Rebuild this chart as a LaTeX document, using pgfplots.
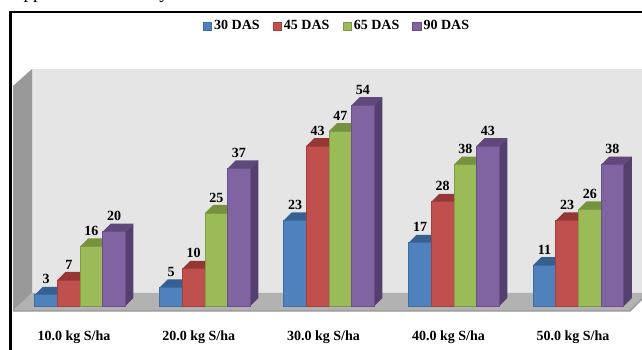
\documentclass[border=0pt]{standalone}
\usepackage{pgfplots}
\usepackage{pgfplotstable}
\usepackage{fontspec}
\setmainfont{Liberation Serif}
\pgfplotsset{compat=1.18}

\definecolor{blueF}{HTML}{4F81BD}\definecolor{blueT}{HTML}{376092}\definecolor{blueS}{HTML}{2F4F78}\definecolor{blueE}{HTML}{3F6DA3}
\definecolor{redF}{HTML}{C0504D}\definecolor{redT}{HTML}{953735}\definecolor{redS}{HTML}{7F3230}\definecolor{redE}{HTML}{A33F3C}
\definecolor{greenF}{HTML}{9BBB59}\definecolor{greenT}{HTML}{76923C}\definecolor{greenS}{HTML}{627636}\definecolor{greenE}{HTML}{7F9C45}
\definecolor{purpleF}{HTML}{8064A2}\definecolor{purpleT}{HTML}{5F497A}\definecolor{purpleS}{HTML}{54406F}\definecolor{purpleE}{HTML}{6A4F8C}

% Sulphur dose (group centre in layout units) against counts per sampling date
\pgfplotstableread{
x      d30 d45 d65 d90
80.1    3   7  16  20
205.0   5  10  25  37
329.0  23  43  47  54
454.0  17  28  38  43
578.5  11  23  26  38
}\dastable

\newcommand{\barw}{22.65}
\pgfplotsset{
  % a whole prism (top, side, front) hung from the bar's top-centre point;
  % arguments: top colour, side colour, front colour, edge colour
  prism faces/.style n args={4}{
    forget plot,
    scatter, only marks, mark=*, mark size=0pt, draw=none,
    point meta=y,
    visualization depends on={y \as \rawy},
    scatter/@pre marker code/.code={%
      \pgfmathsetmacro\hh{\rawy*3.72}%
      \fill[#1] (-\barw/2*1pt,0pt) -- (\barw/2*1pt,0pt) -- (\barw/2*1pt+8pt,8pt) -- (-\barw/2*1pt+8pt,8pt) -- cycle;
      \fill[#2] (\barw/2*1pt,0pt) -- (\barw/2*1pt+8pt,8pt) -- (\barw/2*1pt+8pt,8pt-\hh pt) -- (\barw/2*1pt,-\hh pt) -- cycle;
      \filldraw[fill=#3,draw=#4,line width=0.8pt] (-\barw/2*1pt,0pt) rectangle (\barw/2*1pt,-\hh pt);
    },
    scatter/@post marker code/.code={},
  },
  % the plain bar of a series, which also supplies its legend key
  prism front/.style n args={2}{
    ybar, bar shift=0pt, bar width=\barw pt, fill=#1, draw=#2, line width=0.8pt,
    area legend,
    legend image code/.code={\draw[fill=#1,draw=#2,line width=0.8pt] (0pt,-4pt) rectangle (8.5pt,4pt);},
  },
  % the value printed above the prism
  prism value/.style={
    forget plot,
    only marks, mark=*, mark size=0pt, draw=none,
    nodes near coords={\pgfmathprintnumber[assume math mode=true]{\pgfplotspointmeta}},
    every node near coord/.append style={anchor=center, yshift=15.5pt, text=black, font=\fontsize{14}{14}\selectfont\bfseries},
  },
}

\begin{document}
\begin{tikzpicture}
\path[use as bounding box] (0,0) rectangle (642pt,350pt);

% Chart walls, floor and frame, in a top-left based layout frame
\begin{scope}[x=1pt,y=-1pt,yshift=350pt]
  \fill[color=black!10] (32,69) rectangle (642,294);
  \fill[color=black!40] (13,86) -- (32,69) -- (32,293) -- (13,311) -- cycle;
  \fill[color=black!30] (32,293) -- (642,293) -- (642,299) -- (630,311) -- (13,311) -- cycle;
  \draw[color=black!42,line width=1.2pt] (13,311) -- (630,311) -- (642,299);
  \draw[black,line width=2.4pt] (10.3,350) -- (10.3,12.2) -- (642,12.2);
  \node[anchor=base,font=\fontsize{19}{19}\selectfont] at (33,-1) {pp};
  \node[anchor=base,font=\fontsize{19}{19}\selectfont] at (164,-1) {y};
\end{scope}

\begin{axis}[
  at={(0,0)}, anchor=south west,
  scale only axis, width=642pt, height=350pt,
  xmin=0, xmax=642, ymin=-11.83, ymax=82.26,
  clip=false,
  axis line style={draw=none},
  major tick style={draw=none},
  ytick=\empty,
  xtick={74,198.7,323.5,448.5,573},
  xticklabels={10.0 kg S/ha,20.0 kg S/ha,30.0 kg S/ha,40.0 kg S/ha,50.0 kg S/ha},
  x tick label style={anchor=center, yshift=12.5pt, font=\fontsize{14}{14}\selectfont\bfseries},
  legend columns=4,
  legend style={
    at={(337pt,324pt)}, anchor=center, draw=none, fill=none,
    font=\fontsize{14}{14}\selectfont\bfseries,
    /tikz/every even column/.append style={column sep=11pt},
    inner sep=0pt, outer sep=0pt,
  },
]
  % legend-bearing bars
  \addplot[prism front={blueF}{blueE}] table[x expr=\thisrow{x}-33.98,y=d30] {\dastable};
  \addlegendentry{30 DAS}
  \addplot[prism front={redF}{redE}] table[x expr=\thisrow{x}-11.33,y=d45] {\dastable};
  \addlegendentry{45 DAS}
  \addplot[prism front={greenF}{greenE}] table[x expr=\thisrow{x}+11.33,y=d65] {\dastable};
  \addlegendentry{65 DAS}
  \addplot[prism front={purpleF}{purpleE}] table[x expr=\thisrow{x}+33.98,y=d90] {\dastable};
  \addlegendentry{90 DAS}
  % prisms, left to right so each covers the side face of the one before
  \addplot[prism faces={blueT}{blueS}{blueF}{blueE}] table[x expr=\thisrow{x}-33.98,y=d30] {\dastable};
  \addplot[prism faces={redT}{redS}{redF}{redE}] table[x expr=\thisrow{x}-11.33,y=d45] {\dastable};
  \addplot[prism faces={greenT}{greenS}{greenF}{greenE}] table[x expr=\thisrow{x}+11.33,y=d65] {\dastable};
  \addplot[prism faces={purpleT}{purpleS}{purpleF}{purpleE}] table[x expr=\thisrow{x}+33.98,y=d90] {\dastable};
  % value labels, one plot per series
  \addplot[prism value] table[x expr=\thisrow{x}-33.98,y=d30] {\dastable};
  \addplot[prism value] table[x expr=\thisrow{x}-11.33,y=d45] {\dastable};
  \addplot[prism value] table[x expr=\thisrow{x}+11.33,y=d65] {\dastable};
  \addplot[prism value] table[x expr=\thisrow{x}+33.98,y=d90] {\dastable};
\end{axis}
\end{tikzpicture}
\end{document}
